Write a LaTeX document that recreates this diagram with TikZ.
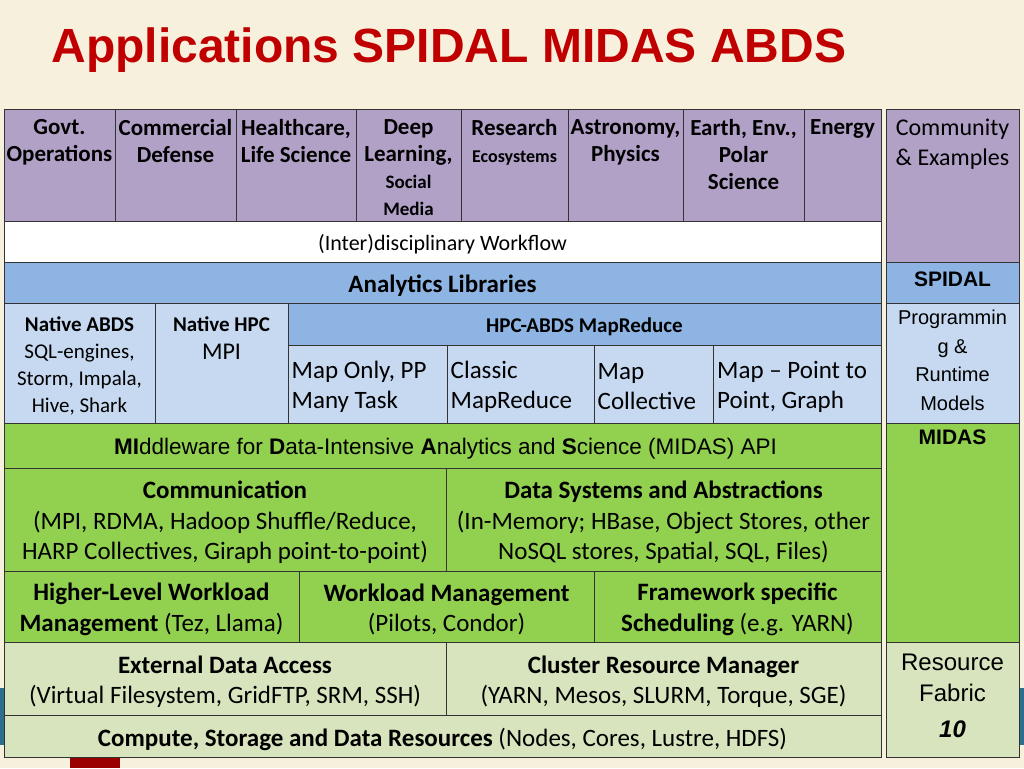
\documentclass[tikz,border=0pt]{standalone}
\usepackage{fontspec}
\setmainfont{Carlito}
\newfontfamily\arialfont{Liberation Sans}
\definecolor{cream}{HTML}{F7F0DC}
\definecolor{titlered}{HTML}{C00000}
\definecolor{purplecell}{HTML}{B2A1C7}
\definecolor{bluecell}{HTML}{8DB4E2}
\definecolor{lightbluecell}{HTML}{C6D9F1}
\definecolor{greencell}{HTML}{92D050}
\definecolor{lightgreencell}{HTML}{D7E4BD}
\definecolor{tealband}{HTML}{2E6E8E}
\tikzset{
  cell/.style={inner sep=2pt,align=center,yshift=-3pt,font=\fontsize{23}{27}\selectfont},
  body/.style={font=\fontsize{25}{30.5}\selectfont},
  mapcell/.style={anchor=west,align=left,font=\fontsize{25}{30}\selectfont},
}
% cell: name, x1, y1, x2, y2, fill, options, text
\newcommand{\cell}[8]{%
  \path[draw=black!80,line width=1pt,fill=#6] (#2,#3) rectangle (#4,#5);
  \node[cell,#7] (#1) at ({(#2+#4)/2},{(#3+#5)/2}) {#8};}
\begin{document}
\begin{tikzpicture}[x=1pt,y=-1pt]
\fill[cream] (0,0) rectangle (1024,768);
\useasboundingbox (0,0) rectangle (1024,768);
\fill[tealband] (0,688) rectangle (6,745);
\fill[tealband] (1019,688) rectangle (1024,745);
\fill[titlered!80!black] (70,755) rectangle (120,768);
\node[anchor=west,text=titlered,font=\arialfont\bfseries\fontsize{48}{54}\selectfont] (title) at (48,50) {Applications SPIDAL MIDAS ABDS};

% application areas
\cell{govt}{4}{109}{115}{221}{purplecell}{anchor=north,yshift=51pt}{\bfseries Govt.\\\bfseries Operations}
\cell{comm}{115}{109}{236}{221}{purplecell}{anchor=north,yshift=51pt}{\bfseries Commercial\\\bfseries Defense}
\cell{health}{236}{109}{356}{221}{purplecell}{anchor=north,yshift=51pt}{\bfseries Healthcare,\\\bfseries Life Science}
\cell{deep}{356}{109}{461}{221}{purplecell}{anchor=north,yshift=51pt,font=\bfseries\fontsize{23}{27}\selectfont}{Deep\\Learning,\\{\fontsize{19}{24}\selectfont Social}\\{\fontsize{19}{24}\selectfont Media}}
\cell{research}{461}{109}{568}{221}{purplecell}{anchor=north,yshift=51pt}{\bfseries Research\\\bfseries\fontsize{18}{20}\selectfont Ecosystems}
\cell{astro}{568}{109}{683}{221}{purplecell}{anchor=north,yshift=51pt}{\bfseries Astronomy,\\\bfseries Physics}
\cell{earth}{683}{109}{804}{221}{purplecell}{anchor=north,yshift=51pt}{\bfseries Earth, Env.,\\\bfseries Polar\\\bfseries Science}
\cell{energy}{804}{109}{881}{221}{purplecell}{anchor=north,yshift=51pt}{\bfseries Energy}

\cell{workflow}{4}{221}{881}{262}{white}{font=\fontsize{22}{24}\selectfont}{(Inter)disciplinary Workflow}
\cell{analytics}{4}{262}{881}{303}{bluecell}{font=\bfseries\fontsize{25}{28}\selectfont}{Analytics Libraries}

% programming models
\cell{nabds}{4}{303}{155}{423}{lightbluecell}{font=\fontsize{21}{27}\selectfont}{\textbf{Native ABDS}\\SQL-engines,\\Storm, Impala,\\Hive, Shark}
\cell{nhpc}{155}{303}{288}{423}{lightbluecell}{anchor=north,yshift=51pt,font=\fontsize{24}{28}\selectfont}{\textbf{\fontsize{21}{28}\selectfont Native HPC}\\MPI}
\cell{mapreduce}{288}{303}{881}{345}{bluecell}{font=\bfseries\fontsize{21}{24}\selectfont}{HPC-ABDS MapReduce}
\cell{maponly}{288}{345}{447}{423}{lightbluecell}{mapcell,xshift=-78pt}{Map Only, PP\\Many Task}
\cell{classic}{447}{345}{594}{423}{lightbluecell}{mapcell,xshift=-72pt}{Classic\\MapReduce}
\cell{mapcoll}{594}{345}{713}{423}{lightbluecell}{mapcell,xshift=-58pt}{Map\\Collective}
\cell{mapp2p}{713}{345}{881}{423}{lightbluecell}{mapcell,xshift=-82pt}{Map -- Point to\\Point, Graph}

% middleware
\cell{midasapi}{4}{423}{881}{468}{greencell}{font=\arialfont\fontsize{22.5}{26}\selectfont,xshift=3pt}{\textbf{MI}ddleware for \textbf{D}ata-Intensive \textbf{A}nalytics and \textbf{S}cience (MIDAS) API}
\cell{commun}{4}{468}{446}{571}{greencell}{body}{\textbf{Communication}\\(MPI, RDMA, Hadoop Shuffle/Reduce,\\HARP Collectives, Giraph point-to-point)}
\cell{datasys}{446}{468}{881}{571}{greencell}{body}{\textbf{Data Systems and Abstractions}\\(In-Memory; HBase, Object Stores, other\\NoSQL stores, Spatial, SQL, Files)}
\cell{highwork}{4}{571}{299}{642}{greencell}{body}{\textbf{Higher-Level Workload}\\\textbf{Management} (Tez, Llama)}
\cell{workmgmt}{299}{571}{594}{642}{greencell}{body}{\textbf{Workload Management}\\(Pilots, Condor)}
\cell{framesched}{594}{571}{881}{642}{greencell}{body}{\textbf{Framework specific}\\\textbf{Scheduling} (e.g. YARN)}

% resources
\cell{extdata}{4}{642}{446}{715}{lightgreencell}{body}{\textbf{External Data Access}\\(Virtual Filesystem, GridFTP, SRM, SSH)}
\cell{cluster}{446}{642}{881}{715}{lightgreencell}{body}{\textbf{Cluster Resource Manager}\\(YARN, Mesos, SLURM, Torque, SGE)}
\cell{compute}{4}{715}{881}{757}{lightgreencell}{body}{\textbf{Compute, Storage and Data Resources} (Nodes, Cores, Lustre, HDFS)}

% layer column
\cell{community}{886}{109}{1019}{262}{purplecell}{anchor=north,yshift=72pt,font=\fontsize{24}{30}\selectfont}{Community\\\& Examples}
\cell{spidal}{886}{262}{1019}{303}{bluecell}{yshift=6pt,font=\arialfont\bfseries\fontsize{21}{24}\selectfont}{SPIDAL}
\cell{progmod}{886}{303}{1019}{423}{lightbluecell}{anchor=north,yshift=58pt,font=\arialfont\fontsize{20}{28.5}\selectfont}{Programmin\\g \&\\Runtime\\Models}
\cell{midas}{886}{423}{1019}{642}{greencell}{anchor=north,yshift=108pt,font=\arialfont\bfseries\fontsize{21}{24}\selectfont}{MIDAS}
\cell{fabric}{886}{642}{1019}{757}{lightgreencell}{anchor=north,yshift=51pt,font=\arialfont\fontsize{24}{31}\selectfont}{Resource\\Fabric\\[5pt]\textbf{\textit{10}}}
\end{tikzpicture}
\end{document}
